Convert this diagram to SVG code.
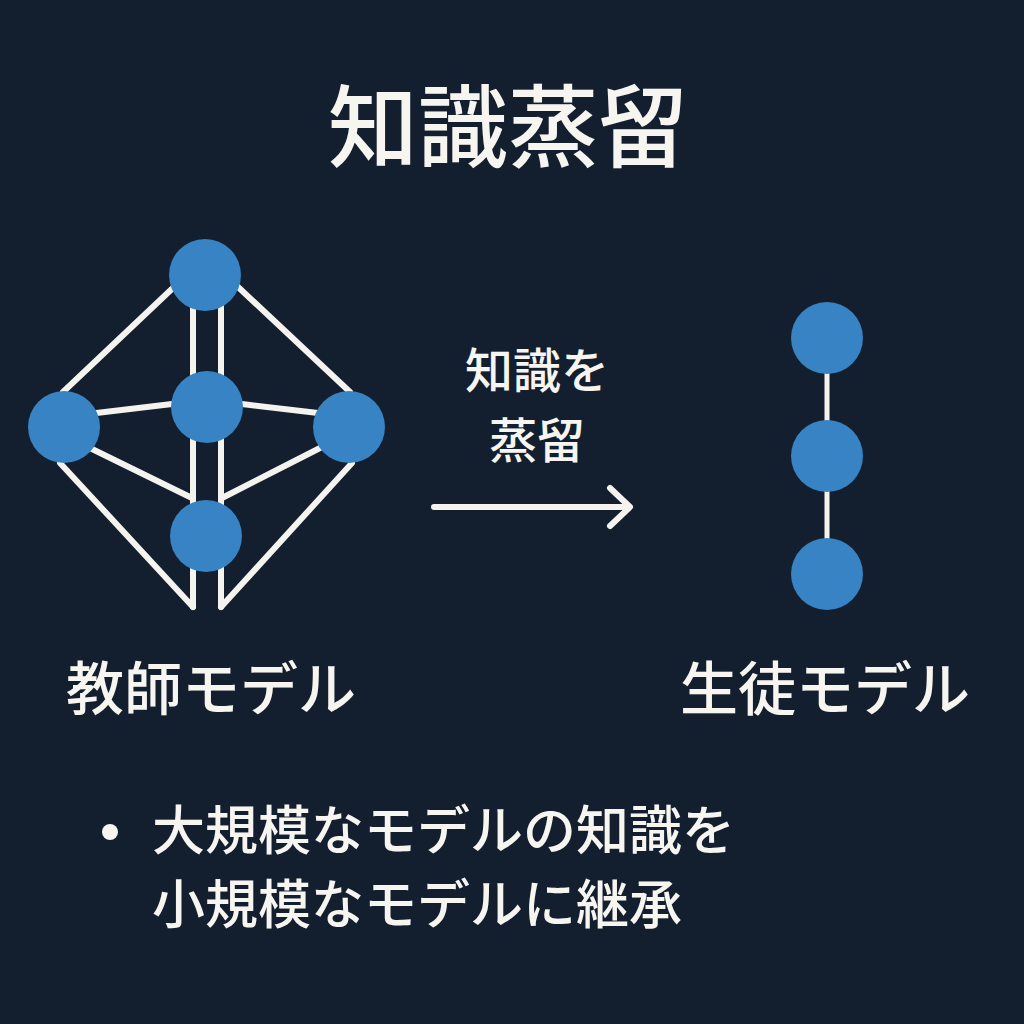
<svg xmlns="http://www.w3.org/2000/svg" width="1024" height="1024" viewBox="0 0 1024 1024">
<style>
text{font-family:"Noto Sans CJK JP","Noto Sans",sans-serif;fill:#f7f5f0;font-weight:500}
.n{fill:#3783c4}
.e{stroke:#f5f3ee;stroke-width:6;fill:none;stroke-linecap:round}
</style>
<rect width="1024" height="1024" fill="#131f2e"/>
<text x="508" y="160" font-size="90" font-weight="bold" text-anchor="middle">知識蒸留</text>
<g id="connectors" class="e">
<line x1="193" y1="300" x2="193" y2="607"/>
<line x1="221" y1="300" x2="221" y2="607"/>
<line x1="63" y1="392" x2="175" y2="286"/>
<line x1="237" y1="286" x2="350" y2="392"/>
<line x1="60" y1="463" x2="193" y2="607"/>
<line x1="352" y1="463" x2="221" y2="607"/>
<line x1="90" y1="448" x2="192" y2="498"/>
<line x1="320" y1="448" x2="222" y2="498"/>
<line x1="88" y1="414" x2="172" y2="404"/>
<line x1="242" y1="404" x2="318" y2="413"/>
<line x1="827" y1="360" x2="827" y2="560" stroke-width="5"/>
<line x1="434" y1="507" x2="628" y2="507"/>
<polyline points="610,488 630,507 610,526" stroke-linecap="round" stroke-linejoin="round"/>
</g>
<g id="teacher">
<circle class="n" cx="205" cy="275" r="36"/>
<circle class="n" cx="207" cy="407" r="36"/>
<circle class="n" cx="64" cy="427" r="36"/>
<circle class="n" cx="349" cy="427" r="36"/>
<circle class="n" cx="206" cy="536" r="36"/>
<text x="211" y="710" font-size="58" text-anchor="middle">教師モデル</text>
</g>
<g id="student">
<circle class="n" cx="827" cy="338" r="36"/>
<circle class="n" cx="827" cy="456" r="36"/>
<circle class="n" cx="827" cy="574" r="36"/>
<text x="825" y="710" font-size="58" text-anchor="middle">生徒モデル</text>
</g>
<g id="label">
<text x="537" y="388" font-size="48" text-anchor="middle">知識を</text>
<text x="537" y="458" font-size="48" text-anchor="middle">蒸留</text>
</g>
<g id="bullet">
<circle cx="110" cy="832" r="8" fill="#f7f5f0"/>
<text x="152" y="850" font-size="53">大規模なモデルの知識を</text>
<text x="152" y="924" font-size="53">小規模なモデルに継承</text>
</g>
</svg>
